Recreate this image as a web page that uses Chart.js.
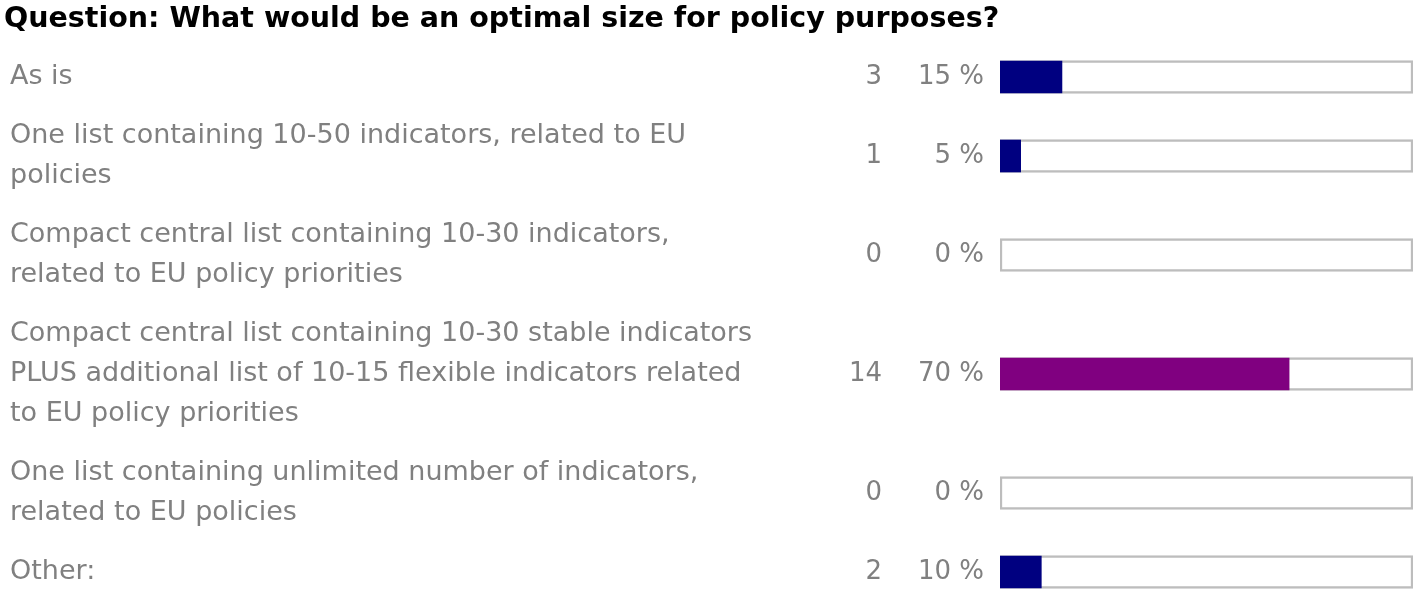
<!DOCTYPE html>
<html>
<head>
<meta charset="utf-8">
<script src="https://cdn.jsdelivr.net/npm/chart.js@4.4.0/dist/chart.umd.min.js"></script>
<style>
  html, body { margin: 0; padding: 0; background: #fff; }
  #wrap { width: 1418px; height: 592px; position: relative; }
</style>
</head>
<body>
<div id="wrap"><canvas id="chart"></canvas></div>
<script>
// === Data ===
const title = 'Question: What would be an optimal size for policy purposes?';
const answers = [
  'As is',
  ['One list containing 10-50 indicators, related to EU', 'policies'],
  ['Compact central list containing 10-30 indicators,', 'related to EU policy priorities'],
  ['Compact central list containing 10-30 stable indicators', 'PLUS additional list of 10-15 flexible indicators related', 'to EU policy priorities'],
  ['One list containing unlimited number of indicators,', 'related to EU policies'],
  'Other:'
];
const counts = [3, 1, 0, 14, 0, 2];
const percents = [15, 5, 0, 70, 0, 10];

// === Row positions (in text-line units, so multi-line answers get more room) ===
const rowGap = 0.475;
const lineCount = (lab) => Array.isArray(lab) ? lab.length : 1;
const rowPos = [];
answers.forEach((lab, i) => {
  if (i === 0) { rowPos.push(0); return; }
  rowPos.push(rowPos[i - 1] + (lineCount(answers[i - 1]) + lineCount(lab)) / 2 + rowGap);
});

const maxPct = Math.max(...percents);
const textGray = '#808080';

// bar colour: highest answer purple, the rest navy, empty ones nothing
const barColor = (v) => v === 0 ? 'rgba(0,0,0,0)' : (v === maxPct ? '#800080' : '#000080');

// === Count and percent columns ===
const valueText = {
  id: 'valueText',
  afterLayout(chart) {
    // labels start a little right of the title
    chart.scales.y.left += 6;
  },
  afterDatasetsDraw(chart) {
    const ctx = chart.ctx;
    const meta = chart.getDatasetMeta(0);
    const left = chart.chartArea.left;
    ctx.save();
    ctx.font = '26px "DejaVu Sans"';
    ctx.fillStyle = textGray;
    ctx.textAlign = 'right';
    ctx.textBaseline = 'middle';
    meta.data.forEach((bar, i) => {
      ctx.fillText(String(counts[i]), left - 118, bar.y);
      ctx.fillText(percents[i] + ' %', left - 16, bar.y);
    });
    ctx.restore();
  }
};

new Chart(document.getElementById('chart'), {
  type: 'bar',
  data: {
    datasets: [
      {
        label: 'share',
        data: percents.map((v, i) => ({ x: v, y: rowPos[i] })),
        backgroundColor: percents.map(barColor),
        borderWidth: 0,
        barThickness: 32,
        grouped: false,
        order: 0
      },
      {
        label: 'track',
        data: rowPos.map(p => ({ x: 100, y: p })),
        backgroundColor: '#ffffff',
        borderColor: '#bdbdbd',
        borderWidth: 2.5,
        borderSkipped: false,
        barThickness: 33,
        grouped: false,
        order: 1
      }
    ]
  },
  options: {
    indexAxis: 'y',
    responsive: true,
    maintainAspectRatio: false,
    animation: false,
    layout: { padding: { left: 4, right: 5, top: 0, bottom: 0 } },
    plugins: {
      legend: { display: false },
      tooltip: { enabled: false },
      title: {
        display: true,
        text: title,
        align: 'start',
        color: '#000000',
        font: { family: 'DejaVu Sans', size: 28.5, weight: 'bold' },
        padding: { top: 2.5, bottom: 10.3 }
      }
    },
    scales: {
      x: { type: 'linear', min: 0, max: 100, display: false },
      y: {
        type: 'linear',
        reverse: true,
        offset: false,
        min: -0.75,
        max: 12.875,
        grid: { display: false },
        border: { display: false },
        afterBuildTicks: (s) => { s.ticks = rowPos.map(v => ({ value: v })); },
        afterFit: (s) => { s.width = 996; s.paddingTop = 0; s.paddingBottom = 0; },
        ticks: {
          autoSkip: false,
          crossAlign: 'far',
          color: textGray,
          font: { family: 'DejaVu Sans', size: 27, lineHeight: 40 / 27 },
          callback: (v, i) => answers[i]
        }
      }
    }
  },
  plugins: [valueText]
});
</script>
</body>
</html>
